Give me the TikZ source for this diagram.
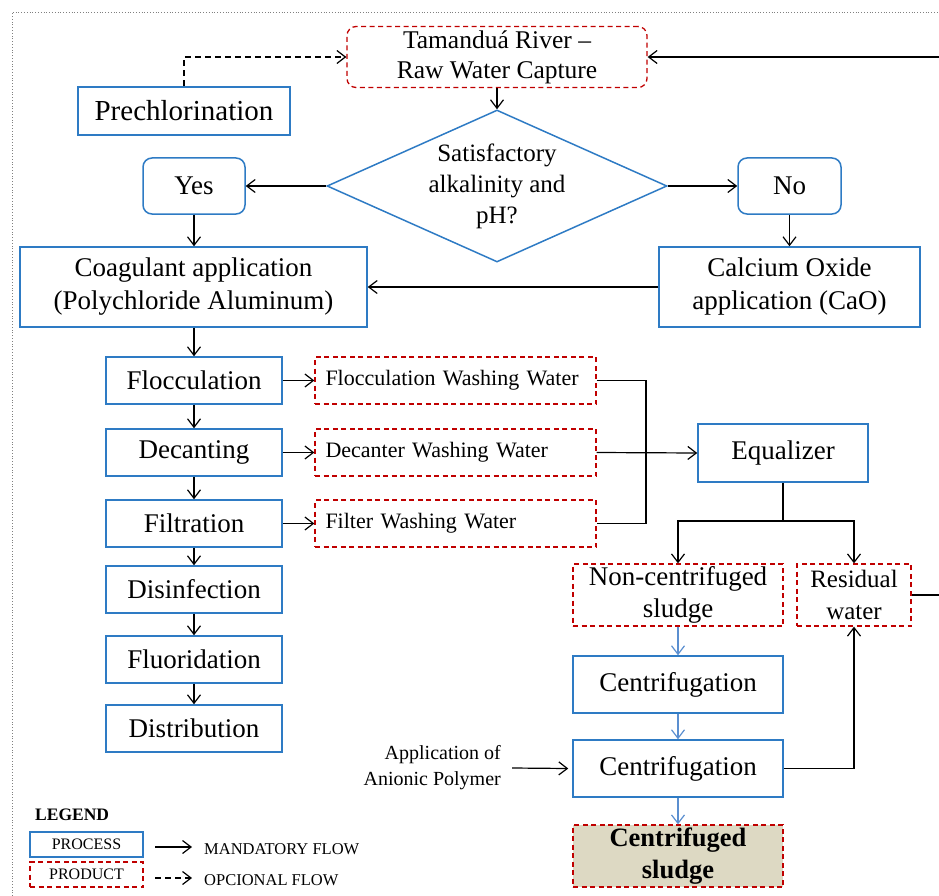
\documentclass[tikz,border=0pt]{standalone}
\usepackage{fontspec}
\setmainfont{Liberation Serif}
\usetikzlibrary{arrows.meta,shapes.geometric}
\definecolor{pblue}{HTML}{2E7BC4}
\definecolor{pred}{HTML}{C00000}
\definecolor{lblue}{HTML}{5B8FD0}
\definecolor{beige}{HTML}{DDD9C3}
\begin{document}
\begin{tikzpicture}[x=1pt,y=-1pt,
  proc/.style={draw=pblue, line width=1.5pt, inner sep=0pt, align=center, text=black, font=\rmfamily\fontsize{27}{33}\selectfont},
  rproc/.style={proc, rounded corners=9pt},
  prod/.style={draw=pred, line width=1.3pt, dash pattern=on 5pt off 3.5pt, inner sep=0pt, align=center, font=\rmfamily\fontsize{27}{32}\selectfont},
  plabel/.style={prod, font=\rmfamily\fontsize{22}{26}\selectfont, align=left, text width=260pt},
  arr/.style={draw=black, line width=1.2pt, -{Straight Barb[length=8.5pt,width=13pt]}},
  barr/.style={draw=lblue, line width=1.2pt, -{Straight Barb[length=8.5pt,width=13pt]}},
  dasharr/.style={arr, dash pattern=on 6pt off 4pt},
  plain/.style={draw=black, line width=1.2pt},
  legtxt/.style={font=\rmfamily\fontsize{16.5}{19}\selectfont, inner sep=0pt, anchor=west}
]
\path[use as bounding box] (0,0) rectangle (939,896);
\clip (0,0) rectangle (939,896);

% outer dotted border
\draw[gray, line width=0.8pt, dotted] (12,896) -- (12,12) -- (945,12);

% top
\node[prod, rounded corners=9pt, minimum width=300pt, minimum height=61pt, font=\rmfamily\fontsize{25.5}{30}\selectfont] (tam) at (497,57) {Tamanduá River –\\Raw Water Capture};
\node[proc, minimum width=212pt, minimum height=48pt, font=\rmfamily\fontsize{29}{34}\selectfont] (pre) at (184,111) {Prechlorination};
\node[draw=pblue, line width=1.5pt, shape=diamond, shape aspect=2.24, minimum width=340pt, minimum height=152pt, inner sep=0pt, align=center, font=\rmfamily\fontsize{25}{31}\selectfont] (dia) at (497,186) {Satisfactory\\alkalinity and\\pH?};
\node[rproc, minimum width=102pt, minimum height=56pt] (yes) at (194,186) {Yes};
\node[rproc, minimum width=103pt, minimum height=56pt] (no) at (789.5,186) {No};
\node[proc, minimum width=347pt, minimum height=80pt] (coag) at (193.5,287) {Coagulant application\\(Polychloride Aluminum)};
\node[proc, minimum width=261pt, minimum height=80pt] (cao) at (789.5,287) {Calcium Oxide\\application (CaO)};

% process column
\node[proc, minimum width=176pt, minimum height=47pt] (floc) at (194,380.5) {Flocculation};
\node[proc, minimum width=176pt, minimum height=47pt] (dec) at (194,452.5) {Decanting};
\node[proc, minimum width=176pt, minimum height=47pt] (filt) at (194,523.5) {Filtration};
\node[proc, minimum width=176pt, minimum height=47pt] (dis) at (194,589.5) {Disinfection};
\node[proc, minimum width=176pt, minimum height=47pt] (flu) at (194,659.5) {Fluoridation};
\node[proc, minimum width=176pt, minimum height=47pt] (dist) at (194,728.5) {Distribution};

% washing waters
\node[plabel, minimum width=281pt, minimum height=47pt] (fww) at (455.5,380.5) {Flocculation Washing Water};
\node[plabel, minimum width=281pt, minimum height=47pt] (dww) at (455.5,452.5) {Decanter Washing Water};
\node[plabel, minimum width=281pt, minimum height=47pt] (tww) at (455.5,523.5) {Filter Washing Water};

% right branch
\node[proc, minimum width=170pt, minimum height=58pt] (eq) at (783,453) {Equalizer};
\node[prod, minimum width=210pt, minimum height=62pt] (nc) at (678,595) {Non-centrifuged\\sludge};
\node[prod, minimum width=114pt, minimum height=62pt, font=\rmfamily\fontsize{25}{32}\selectfont] (res) at (854,595) {Residual\\water};
\node[proc, minimum width=210pt, minimum height=57pt] (c1) at (678,684.5) {Centrifugation};
\node[proc, minimum width=210pt, minimum height=57pt] (c2) at (678,768.5) {Centrifugation};
\node[prod, fill=beige, minimum width=210pt, minimum height=62pt, font=\rmfamily\fontsize{26.5}{32}\selectfont\bfseries] (cs) at (678,856) {Centrifuged\\sludge};
\node[align=right, inner sep=0pt, anchor=east, font=\rmfamily\fontsize{20}{26}\selectfont] (an) at (501,768) {Application of\\Anionic Polymer};

% connectors
\draw[dasharr] (pre.north) |- (tam.west);
\draw[arr] (res.east) -- ++(60,0) |- (tam.east);
\draw[arr] (tam.south) -- (dia.north);
\draw[arr] (dia.west) -- (yes.east);
\draw[arr] (dia.east) -- (no.west);
\draw[arr] (yes.south) -- (coag.north -| yes.south);
\draw[arr] (no.south) -- (cao.north -| no.south);
\draw[arr] (cao.west) -- (coag.east);
\draw[arr] (coag.south -| floc.north) -- (floc.north);
\draw[arr] (floc) -- (dec);
\draw[arr] (dec) -- (filt);
\draw[arr] (filt) -- (dis);
\draw[arr] (dis) -- (flu);
\draw[arr] (flu) -- (dist);
\draw[arr] (floc.east) -- (fww.west);
\draw[arr] (dec.east) -- (dww.west);
\draw[arr] (filt.east) -- (tww.west);
\coordinate (jx) at (646,452.5);
\draw[plain] (fww.east) -| (jx) |- (tww.east);
\draw[arr] (dww.east) -- (eq.west);
\coordinate (split) at (783,521);
\draw[plain] (eq.south) -- (split);
\draw[arr] (split) -| (nc.north);
\draw[arr] (split) -| (res.north);
\draw[barr] (nc) -- (c1);
\draw[barr] (c1) -- (c2);
\draw[barr] (c2) -- (cs);
\draw[arr] (c2.east) -| (res.south);
\draw[arr] ([xshift=11pt]an.east) -- ([xshift=-4pt]c2.west);

% legend
\node[legtxt, font=\rmfamily\fontsize{17.5}{20}\selectfont\bfseries] (leg) at (35,815) {LEGEND};
\node[proc, minimum width=113pt, minimum height=25pt, font=\rmfamily\fontsize{16}{18}\selectfont] (lp) at (86.5,844.5) {PROCESS};
\node[prod, minimum width=113pt, minimum height=25pt, font=\rmfamily\fontsize{16}{18}\selectfont] (lq) at (86.5,874.5) {PRODUCT};
\coordinate (a1) at (155,847);
\coordinate (a2) at (192,847);
\coordinate (b1) at (155,878);
\coordinate (b2) at (192,878);
\draw[arr] (a1) -- (a2);
\draw[dasharr] (b1) -- (b2);
\node[legtxt] (lm) at (204,849) {MANDATORY FLOW};
\node[legtxt] (lo) at (204,880) {OPCIONAL FLOW};
\end{tikzpicture}
\end{document}
